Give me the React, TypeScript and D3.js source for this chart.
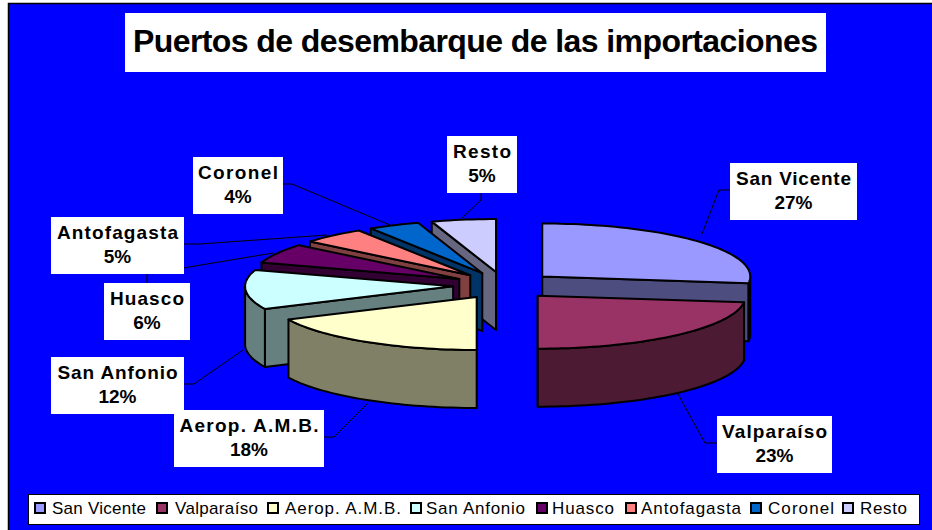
import React from 'react';
import * as d3 from 'd3';

const categories = ['San Vicente', 'Valparaíso', 'Aerop. A.M.B.', 'San Anfonio', 'Huasco', 'Antofagasta', 'Coronel', 'Resto'];
const shares = [27, 23, 18, 12, 6, 5, 4, 5];
const topColors = ['#9999ff', '#993366', '#ffffcc', '#ccffff', '#660066', '#ff8080', '#0066cc', '#ccccff'];
const sideColors = ['#4d4d80', '#4d1a33', '#808066', '#668080', '#330033', '#804040', '#003366', '#666680'];

// label boxes: x, y, width, name width
const labelBoxes = [
  [730, 163, 127, 115],
  [717, 416, 115, 105],
  [174, 410, 150, 139],
  [51, 357, 133, 120],
  [104, 283, 86, 74],
  [51, 217, 133, 121],
  [193, 157, 90, 80],
  [447, 136, 70, 58],
];
const leaders = [
  [[730, 190], [719, 190], [702, 234]],
  [[717, 443], [705, 443], [678, 394]],
  [[324, 437], [334, 437], [368, 403]],
  [[184, 384], [194, 384], [243, 350]],
  [[147, 283], [147, 274], [273, 253]],
  [[184, 244], [200, 244], [327, 235]],
  [[283, 184], [292, 184], [390, 225]],
  [[481, 193], [481, 200], [462, 218]],
];
// legend: swatch x, text x, text width
const legendSwatchX = [35, 157, 268, 411, 537, 626, 751, 843];
const legendTextX = [52, 175, 285, 426, 552, 641, 768, 860];
const legendTextW = [94, 83, 116, 99, 62, 100, 66, 47];

const width = 932;
const height = 530;
const cx = 504;
const cy = 285.5;
const rx = 208;
const ry = 53;
const depth = 58;
const explodeX = 51;
const explodeY = 13.6;
const font = '"Liberation Sans", Arial, sans-serif';

const unitX = d3.scaleLinear().domain([-1, 1]).range([-rx, rx]);
const unitY = d3.scaleLinear().domain([-1, 1]).range([ry, -ry]);

const pie = d3.pie<number>().sort(null).value(d => d);
const arcs = pie(shares);

const line = d3.line();
const leaderLine = d3.line();

const sampleArc = (a0: number, a1: number) => {
  const n = Math.max(2, Math.ceil((a1 - a0) / 0.03));
  return d3.range(n + 1).map(i => a0 + ((a1 - a0) * i) / n);
};

const buildSlice = (a: d3.PieArcDatum<number>, i: number) => {
  const mid = (a.startAngle + a.endAngle) / 2;
  const ax = cx + explodeX * Math.sin(mid);
  const ay = cy - explodeY * Math.cos(mid);
  const pt = (t: number, dz = 0): [number, number] => [ax + unitX(Math.sin(t)), ay + unitY(Math.cos(t)) + dz];
  const top = line([[ax, ay], ...sampleArc(a.startAngle, a.endAngle).map(t => pt(t))]) + 'Z';

  // the radial face that looks toward the viewer
  const edge = a.endAngle <= Math.PI + 1e-6 ? a.endAngle : a.startAngle;
  const face = line([[ax, ay], pt(edge), pt(edge, depth), [ax, ay + depth]]) + 'Z';

  // outer wall only on the front half of the rim
  const w0 = Math.max(a.startAngle, Math.PI / 2);
  const w1 = Math.min(a.endAngle, (3 * Math.PI) / 2);
  let wall: string | null = null;
  if (w1 > w0) {
    const ts = sampleArc(w0, w1);
    wall = line([...ts.map(t => pt(t)), ...ts.slice().reverse().map(t => pt(t, depth))]) + 'Z';
  }
  return { i, top, face, wall, order: -Math.cos(mid) };
};

const slices = arcs.map(buildSlice).sort((p, q) => d3.ascending(p.order, q.order));

export default function App() {
  return (
    <svg width={width} height={height} style={{ position: 'absolute', left: 0, top: 0 }} fontFamily={font}>
      <rect x={0} y={0} width={width} height={height} fill="#fff" />
      <rect x={8.5} y={3.5} width={width} height={height} fill="#0000ff" stroke="#000" strokeWidth={1.5} />

      <rect x={125} y={13} width={701} height={59} fill="#fff" />
      <text x={133} y={52} fontSize={32} fontWeight="bold" textLength={685} lengthAdjust="spacing" fill="#000">
        Puertos de desembarque de las importaciones
      </text>

      {leaders.map((pts, i) => (
        <path key={i} d={leaderLine(pts as [number, number][]) as string} fill="none" stroke="#000" strokeWidth={1} />
      ))}

      {slices.map(s => (
        <g key={s.i} stroke="#000" strokeWidth={2} strokeLinejoin="round">
          <path d={s.face} fill={sideColors[s.i]} />
          {s.wall && <path d={s.wall} fill={sideColors[s.i]} />}
          <path d={s.top} fill={topColors[s.i]} />
        </g>
      ))}

      {categories.map((name, i) => {
        const [x, y, w, tw] = labelBoxes[i];
        return (
          <g key={name}>
            <rect x={x} y={y} width={w} height={57} fill="#fff" />
            <text x={x + w / 2 - tw / 2} y={y + 22} fontSize={19} fontWeight="bold" textLength={tw} lengthAdjust="spacing" fill="#000">
              {name}
            </text>
            <text x={x + w / 2} y={y + 46} fontSize={19} fontWeight="bold" textAnchor="middle" fill="#000">
              {shares[i]}%
            </text>
          </g>
        );
      })}

      <rect x={28.5} y={494.5} width={891} height={30} fill="#fff" stroke="#000" strokeWidth={1} />
      {categories.map((name, i) => (
        <g key={name}>
          <rect x={legendSwatchX[i]} y={503} width={10} height={10} fill={topColors[i]} stroke="#000" strokeWidth={2} />
          <text x={legendTextX[i]} y={513.5} fontSize={17} textLength={legendTextW[i]} lengthAdjust="spacing" fill="#000">
            {name}
          </text>
        </g>
      ))}
    </svg>
  );
}
